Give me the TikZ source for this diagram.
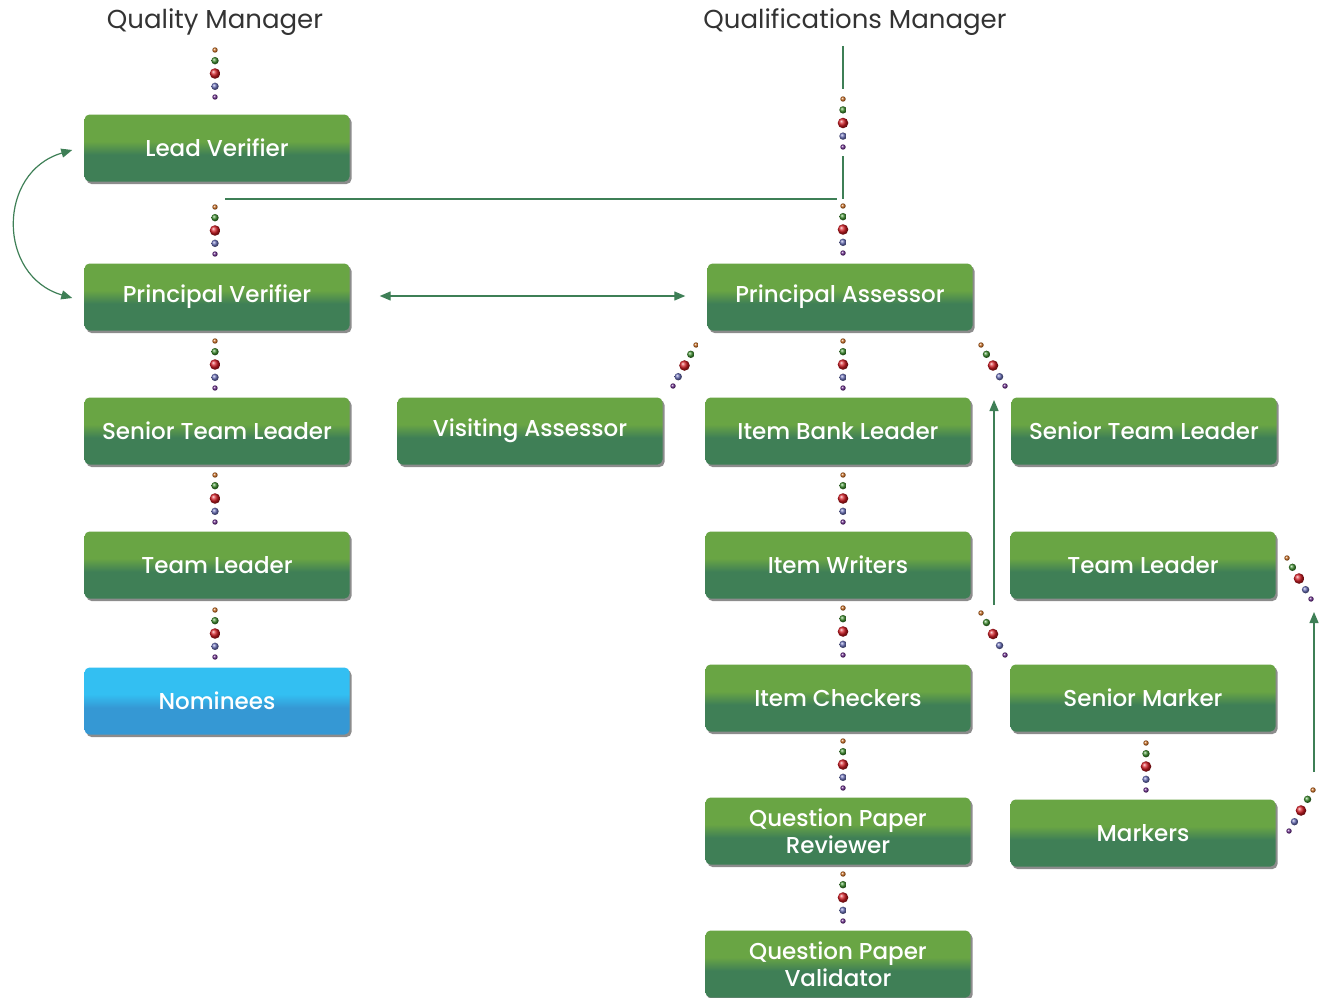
\documentclass[tikz,border=0pt]{standalone}
\usepackage{fontspec}
\setmainfont{Poppins}
\IfFontExistsTF{Poppins Medium}{\newfontfamily\boxfont{Poppins Medium}}{\newfontfamily\boxfont{Poppins}[UprightFont=*-Bold]}
\usetikzlibrary{calc,shadows,arrows.meta}
\definecolor{gtop}{HTML}{69A544}
\definecolor{gbot}{HTML}{3F7F56}
\definecolor{btop}{HTML}{33BFF2}
\definecolor{bbot}{HTML}{3598D4}
\definecolor{lnc}{HTML}{3E7F56}
\definecolor{beadO}{HTML}{C86A1E}
\definecolor{beadG}{HTML}{3F9030}
\definecolor{beadR}{HTML}{D41C24}
\definecolor{beadB}{HTML}{6A70BA}
\definecolor{beadP}{HTML}{6A2A8C}
\definecolor{ttl}{HTML}{333333}
\pgfdeclareverticalshading{greenbox}{100bp}{color(0bp)=(gbot); color(45bp)=(gbot); color(55bp)=(gtop); color(100bp)=(gtop)}
\pgfdeclareverticalshading{bluebox}{100bp}{color(0bp)=(bbot); color(45bp)=(bbot); color(55bp)=(btop); color(100bp)=(btop)}
\newcommand\beadchain[2]{%
  \foreach \f/\r/\c in {0/2.7/beadO, 0.227/3.7/beadG, 0.5/5.3/beadR, 0.773/3.7/beadB, 1/2.7/beadP}{%
    \shade[ball color=\c] ($(#1)!\f!(#2)$) circle (\r);
  }%
}
\begin{document}
\begin{tikzpicture}[x=1pt,y=-1pt,
  box/.style={rounded corners=5pt, minimum width=265pt, minimum height=67pt, inner sep=0pt,
    shading=greenbox, text=white, align=center,
    font=\boxfont\fontsize{23}{27}\selectfont,
    drop shadow={shadow xshift=2pt, shadow yshift=-2.5pt, opacity=0.45, fill=black}},
  bluebx/.style={box, shading=bluebox},
  title/.style={text=ttl, font=\fontsize{26}{30}\selectfont, inner sep=0pt},
  conn/.style={draw=lnc, line width=1.2pt},
  arr/.style={conn, -{Triangle[length=11pt,width=9pt]}},
  darr/.style={conn, {Triangle[length=11pt,width=9pt]}-{Triangle[length=11pt,width=9pt]}}
]
\useasboundingbox (0,0) rectangle (1330,998);

% titles
\node[title] (qm) at (215,22) {Quality Manager};
\node[title] (qfm) at (855,22) {Qualifications Manager};

% left column
\node[box] (lv) at (217,148) {Lead Verifier};
\node[box] (pv) at (217,297) {Principal Verifier};
\node[box] (stl1) at (217,431) {Senior Team Leader};
\node[box] (tl1) at (217,565) {Team Leader};
\node[bluebx] (nom) at (217,701) {Nominees};

% middle
\node[box] (va) at (530,431) {Visiting Assessor};
\node[box] (pa) at (840,297) {Principal Assessor};
\node[box] (ibl) at (838,431) {Item Bank Leader};
\node[box] (iw) at (838,565) {Item Writers};
\node[box] (ic) at (838,698) {Item Checkers};
\node[box] (qpr) at (838,831) {Question Paper\\Reviewer};
\node[box] (qpv) at (838,964) {Question Paper\\Validator};

% right
\node[box] (stl2) at (1144,431) {Senior Team Leader};
\node[box] (tl2) at (1143,565) {Team Leader};
\node[box] (sm) at (1143,698) {Senior Marker};
\node[box] (mk) at (1143,833) {Markers};

% coordinates for connectors
\coordinate (l1a) at (843,46);  \coordinate (l1b) at (843,89);
\coordinate (l2a) at (843,156); \coordinate (l2b) at (843,199);
\coordinate (h1) at (225,199);  \coordinate (h2) at (837,199);

\coordinate (b1a) at (215,50);  \coordinate (b1b) at (215,97);
\coordinate (b2a) at (215,207); \coordinate (b2b) at (215,254);
\coordinate (b3a) at (215,341); \coordinate (b3b) at (215,388);
\coordinate (b4a) at (215,475); \coordinate (b4b) at (215,522);
\coordinate (b5a) at (215,610); \coordinate (b5b) at (215,657);

\coordinate (r1a) at (843,99);  \coordinate (r1b) at (843,147);
\coordinate (r2a) at (843,206); \coordinate (r2b) at (843,253);
\coordinate (r3a) at (843,341); \coordinate (r3b) at (843,388);
\coordinate (r4a) at (843,475); \coordinate (r4b) at (843,522);
\coordinate (r5a) at (843,608); \coordinate (r5b) at (843,655);
\coordinate (r6a) at (843,741); \coordinate (r6b) at (843,788);
\coordinate (r7a) at (843,874); \coordinate (r7b) at (843,921);
\coordinate (s1a) at (1146,743); \coordinate (s1b) at (1146,790);

\coordinate (d1a) at (696,345);  \coordinate (d1b) at (673,386);
\coordinate (d2a) at (981,345);  \coordinate (d2b) at (1005,386);
\coordinate (d3a) at (981,613);  \coordinate (d3b) at (1005,655);
\coordinate (d4a) at (1287,558); \coordinate (d4b) at (1311,599);
\coordinate (d5a) at (1313,790); \coordinate (d5b) at (1289,831);

% plain lines
\draw[conn] (l1a) -- (l1b);
\draw[conn] (l2a) -- (l2b);
\draw[conn] (h1) -- (h2);

% bead chains
\beadchain{b1a}{b1b}
\beadchain{b2a}{b2b}
\beadchain{b3a}{b3b}
\beadchain{b4a}{b4b}
\beadchain{b5a}{b5b}
\beadchain{r1a}{r1b}
\beadchain{r2a}{r2b}
\beadchain{r3a}{r3b}
\beadchain{r4a}{r4b}
\beadchain{r5a}{r5b}
\beadchain{r6a}{r6b}
\beadchain{r7a}{r7b}
\beadchain{s1a}{s1b}
\beadchain{d1a}{d1b}
\beadchain{d2a}{d2b}
\beadchain{d3a}{d3b}
\beadchain{d4a}{d4b}
\beadchain{d5a}{d5b}

% arrows
\coordinate (ca) at ($(lv.west)+(-12,2)$);
\coordinate (cb) at ($(pv.west)+(-12,1)$);
\draw[darr] (ca) .. controls (-3,172) and (-3,276) .. (cb);
\coordinate (ha) at ($(pv.east)+(30,-1)$);
\coordinate (hb) at ($(pa.west)+(-22,-1)$);
\draw[darr] (ha) -- (hb);
\coordinate (v1a) at (994,605); \coordinate (v1b) at (994,400);
\draw[arr] (v1a) -- (v1b);
\coordinate (v2a) at (1314,772); \coordinate (v2b) at (1314,612);
\draw[arr] (v2a) -- (v2b);
\end{tikzpicture}
\end{document}
